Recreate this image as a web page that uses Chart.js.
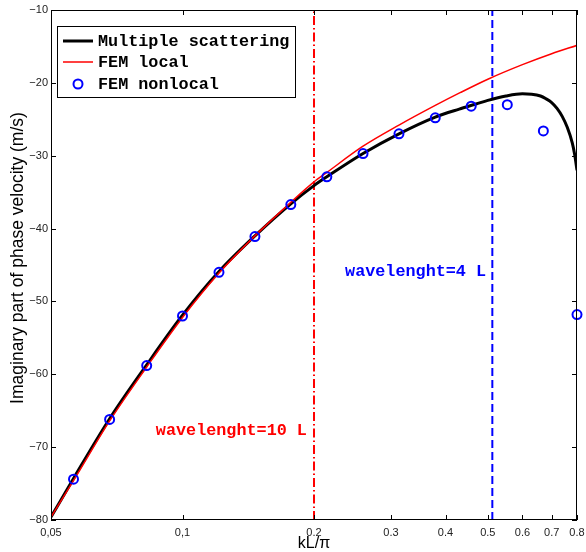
<!DOCTYPE html>
<html>
<head>
<meta charset="utf-8">
<script src="https://cdn.jsdelivr.net/npm/chart.js@4"></script>
<style>
  html, body { margin: 0; padding: 0; background: #fff; }
  canvas { display: block; }
</style>
</head>
<body>
<canvas id="grafico" width="586" height="552"></canvas>
<script>
// ticks
const xTicks = [0.05, 0.1, 0.2, 0.3, 0.4, 0.5, 0.6, 0.7, 0.8];
const xTickLabels = ["0,05", "0,1", "0.2", "0.3", "0.4", "0.5", "0.6", "0.7", "0.8"];
const yTicks = [-80, -70, -60, -50, -40, -30, -20, -10];

// Multiple scattering (black)
const msX = [0.05, 0.0563, 0.0681, 0.0828, 0.1, 0.1212, 0.1465, 0.177, 0.2, 0.214, 0.259, 0.313, 0.379, 0.43, 0.47, 0.5, 0.55, 0.6, 0.63, 0.66, 0.68, 0.7, 0.72, 0.74, 0.76, 0.78, 0.79, 0.8];
const msY = [-79.6, -74.3, -66.1, -58.7, -51.9, -45.9, -41.0, -36.6, -34.1, -32.9, -29.7, -27.0, -24.7, -23.6, -22.9, -22.4, -21.8, -21.5, -21.55, -21.8, -22.2, -22.7, -23.5, -24.6, -26.1, -28.2, -29.8, -32.0];

// FEM local (red)
const flX = [0.05, 0.0563, 0.0681, 0.0828, 0.1, 0.1212, 0.1465, 0.177, 0.2, 0.214, 0.259, 0.313, 0.379, 0.432, 0.5, 0.6, 0.7, 0.8];
const flY = [-79.6, -74.6, -66.4, -59.0, -52.2, -46.1, -41.0, -36.4, -33.6, -32.3, -28.7, -25.8, -23.1, -21.35, -19.5, -17.5, -16.0, -14.85];

// FEM nonlocal (blue circles)
const fnX = [0.0563, 0.0681, 0.0828, 0.1, 0.1212, 0.1465, 0.177, 0.214, 0.259, 0.313, 0.379, 0.458, 0.554, 0.67, 0.8];
const fnY = [-74.4, -66.2, -58.8, -52.0, -46.0, -41.1, -36.7, -32.9, -29.7, -27.0, -24.8, -23.2, -23.0, -26.6, -51.8];

// wavelength markers
const wlX = [0.2, 0.512];
const wlTexts = ["wavelenght=10 L", "wavelenght=4 L"];

const rojo = "#ff0000";
const azul = "#0000ff";
const monoFont = "bold 16.8px 'Liberation Mono', 'Courier New', monospace";

// where the texts sit (data coordinates, left edge / vertical middle)
const textPos = [
  { x: 0.0869, y: -67.8, color: rojo },
  { x: 0.2356, y: -45.9, color: azul }
];

const puntos = (xs, ys) => xs.map((x, i) => ({ x: x, y: ys[i] }));
const vertical = x => [{ x: x, y: -80 }, { x: x, y: -10 }];

const matlabPlugin = {
  id: "matlab",
  afterDraw(chart) {
    const ctx = chart.ctx;
    const a = chart.chartArea;
    const xs = chart.scales.x;
    const ys = chart.scales.y;
    ctx.save();

    // texts
    ctx.font = monoFont;
    ctx.textBaseline = "middle";
    ctx.textAlign = "left";
    textPos.forEach((t, i) => {
      ctx.fillStyle = t.color;
      ctx.fillText(wlTexts[i], xs.getPixelForValue(t.x), ys.getPixelForValue(t.y));
    });

    // frame
    ctx.strokeStyle = "#000";
    ctx.lineWidth = 1;
    ctx.strokeRect(a.left + 0.5, a.top + 0.5, a.right - a.left - 1, a.bottom - a.top - 1);

    // inward ticks
    ctx.beginPath();
    xTicks.forEach(v => {
      const px = Math.round(xs.getPixelForValue(v)) + 0.5;
      ctx.moveTo(px, a.bottom); ctx.lineTo(px, a.bottom - 5);
      ctx.moveTo(px, a.top); ctx.lineTo(px, a.top + 5);
    });
    yTicks.forEach(v => {
      const py = Math.round(ys.getPixelForValue(v)) + 0.5;
      ctx.moveTo(a.left, py); ctx.lineTo(a.left + 5, py);
      ctx.moveTo(a.right, py); ctx.lineTo(a.right - 5, py);
    });
    ctx.stroke();

    // legend
    const bx = 57, by = 26, bw = 238, bh = 71;
    ctx.fillStyle = "#fff";
    ctx.fillRect(bx, by, bw, bh);
    ctx.strokeStyle = "#000";
    ctx.lineWidth = 1;
    ctx.strokeRect(bx + 0.5, by + 0.5, bw, bh);

    const filas = [41, 62, 84];
    ctx.lineWidth = 3;
    ctx.strokeStyle = "#000";
    ctx.beginPath(); ctx.moveTo(63, filas[0]); ctx.lineTo(93, filas[0]); ctx.stroke();
    ctx.lineWidth = 1.5;
    ctx.strokeStyle = rojo;
    ctx.beginPath(); ctx.moveTo(63, filas[1]); ctx.lineTo(93, filas[1]); ctx.stroke();
    ctx.lineWidth = 2;
    ctx.strokeStyle = azul;
    ctx.beginPath(); ctx.arc(78, filas[2], 4.5, 0, Math.PI * 2); ctx.stroke();

    ctx.fillStyle = "#000";
    ctx.font = monoFont;
    ctx.textBaseline = "middle";
    chart.data.datasets.slice(0, 3).forEach((d, i) => {
      ctx.fillText(d.label, 98, filas[i] + 1);
    });

    // axis titles
    ctx.font = "16px 'Liberation Sans', Arial, sans-serif";
    ctx.textAlign = "center";
    ctx.textBaseline = "middle";
    ctx.fillText("kL/\u03c0", (a.left + a.right) / 2, 544);
    ctx.font = "17.5px 'Liberation Sans', Arial, sans-serif";
    ctx.translate(18, 258);
    ctx.rotate(-Math.PI / 2);
    ctx.fillText("Imaginary part of phase velocity (m/s)", 0, 0);

    ctx.restore();
  }
};

const ctx = document.getElementById("grafico").getContext("2d");

const grafico = new Chart(ctx, {
  type: "line",
  data: {
    datasets: [
      {
        label: "Multiple scattering",
        data: puntos(msX, msY),
        borderColor: "#000",
        borderWidth: 3,
        pointRadius: 0,
        tension: 0.4,
        cubicInterpolationMode: "monotone",
        order: 2
      },
      {
        label: "FEM local",
        data: puntos(flX, flY),
        borderColor: rojo,
        borderWidth: 1.5,
        pointRadius: 0,
        tension: 0.4,
        cubicInterpolationMode: "monotone",
        order: 1
      },
      {
        label: "FEM nonlocal",
        data: puntos(fnX, fnY),
        showLine: false,
        pointStyle: "circle",
        pointRadius: 4.5,
        pointBorderWidth: 2,
        pointBorderColor: azul,
        pointBackgroundColor: "rgba(0,0,0,0)",
        clip: false,
        order: 0
      },
      {
        label: "wl10",
        data: vertical(wlX[0]),
        borderColor: rojo,
        borderWidth: 2,
        borderDash: [9, 3, 1.5, 3],
        pointRadius: 0,
        order: 3
      },
      {
        label: "wl4",
        data: vertical(wlX[1]),
        borderColor: azul,
        borderWidth: 2,
        borderDash: [8, 4],
        pointRadius: 0,
        order: 3
      }
    ]
  },
  options: {
    responsive: false,
    animation: false,
    devicePixelRatio: 1,
    layout: { padding: { top: 10, right: 9, left: 0, bottom: 0 } },
    plugins: {
      legend: { display: false },
      tooltip: { enabled: false }
    },
    scales: {
      x: {
        type: "logarithmic",
        min: 0.05,
        max: 0.8,
        afterBuildTicks: scale => { scale.ticks = xTicks.map(v => ({ value: v })); },
        afterFit: scale => {
          scale.height = 32;
          scale.paddingLeft = 0;
          scale.paddingRight = 0;
        },
        grid: { display: false, drawTicks: false },
        border: { display: false },
        ticks: {
          autoSkip: false,
          maxRotation: 0,
          padding: 6,
          color: "#222",
          font: { family: "'Liberation Sans', Arial, sans-serif", size: 11 },
          callback: (v, i) => xTickLabels[i]
        }
      },
      y: {
        type: "linear",
        min: -80,
        max: -10,
        afterBuildTicks: scale => { scale.ticks = yTicks.map(v => ({ value: v })); },
        afterFit: scale => {
          scale.width = 51;
          scale.paddingTop = 0;
          scale.paddingBottom = 0;
        },
        grid: { display: false, drawTicks: false },
        border: { display: false },
        ticks: {
          padding: 3,
          color: "#222",
          font: { family: "'Liberation Sans', Arial, sans-serif", size: 11 },
          callback: v => "\u2212" + Math.abs(v)
        }
      }
    }
  },
  plugins: [matlabPlugin]
});
</script>
</body>
</html>
